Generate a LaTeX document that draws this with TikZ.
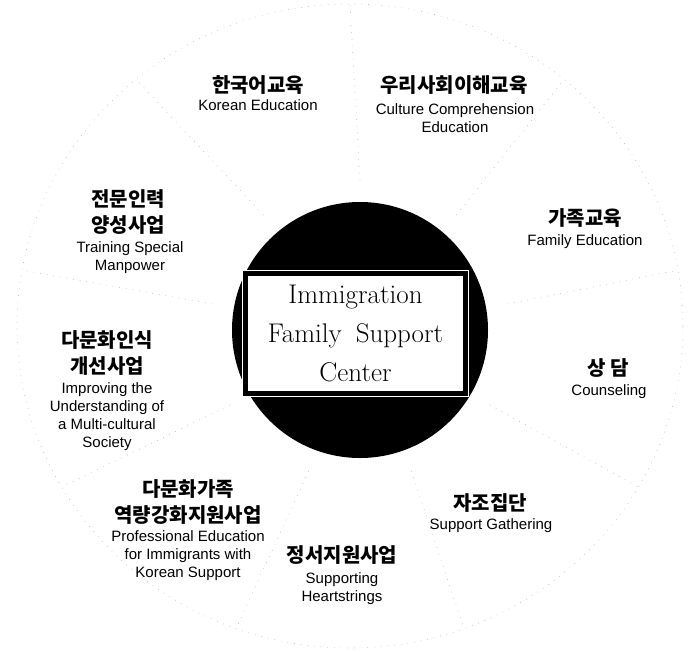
\documentclass[tikz,border=0pt]{standalone}
\usepackage{fontspec}
\setsansfont{Liberation Sans}
\newfontfamily\kor{Noto Sans CJK KR}
\usetikzlibrary{calc}

\tikzset{
  kortitle/.style={font=\kor\bfseries\fontsize{20}{26}\selectfont, align=center, inner sep=0pt},
  engsub/.style={font=\sffamily\fontsize{15}{18}\selectfont, align=center, inner sep=0pt},
  sepline/.style={gray!55, line width=0.6pt, dash pattern=on 0.7pt off 6pt},
}

\begin{document}
\begin{tikzpicture}[x=1pt,y=-1pt]

\useasboundingbox (0,0) rectangle (688,651);

% outer ring and sector lines
\draw[sepline] (350,326) ellipse [x radius=333pt, y radius=322pt];
\foreach \a in {90,50,...,-230}
  \draw[sepline] ({360+150*cos(\a)},{330-150*sin(\a)}) -- ({350+333*cos(\a)},{326-322*sin(\a)});

% centre
\coordinate (O) at (360,330);
\fill[black] (O) circle [radius=128pt];
\node[draw=white, double=black, double distance=5pt, line width=1pt, fill=white,
      minimum width=220pt, minimum height=120pt, align=center,
      font=\fontsize{27}{39}\selectfont] (ctr) at (355.5,333.5)
      {Immigration\\Family\hskip 14pt Support\\Center};

% sectors
\node[kortitle] (korEd) at (258,85) {한국어교육};
\node[engsub] (korEdEn) at (258,105) {Korean Education};

\node[kortitle] (culEd) at (454,85) {우리사회이해교육};
\node[engsub] (culEdEn) at (455,118) {Culture Comprehension\\Education};

\node[kortitle] (famEd) at (585,218) {가족교육};
\node[engsub] (famEdEn) at (585,242) {Family Education};

\node[kortitle] (couns) at (608,368) {상 담};
\node[engsub] (counsEn) at (609,392) {Counseling};

\node[kortitle] (selfHelp) at (490,503) {자조집단};
\node[engsub] (selfHelpEn) at (491,526) {Support Gathering};

\node[kortitle] (emot) at (342,555) {정서지원사업};
\node[engsub] (emotEn) at (342,589) {Supporting\\Heartstrings};

\node[kortitle] (capa) at (188,502) {다문화가족\\역량강화지원사업};
\node[engsub] (capaEn) at (188,556) {Professional Education\\for Immigrants with\\Korean Support};

\node[kortitle] (aware) at (107,353) {다문화인식\\개선사업};
\node[engsub] (awareEn) at (107,417) {Improving the\\Understanding of\\a Multi-cultural\\Society};

\node[kortitle] (train) at (128,212) {전문인력\\양성사업};
\node[engsub] (trainEn) at (130,258) {Training Special\\Manpower};

\end{tikzpicture}
\end{document}
